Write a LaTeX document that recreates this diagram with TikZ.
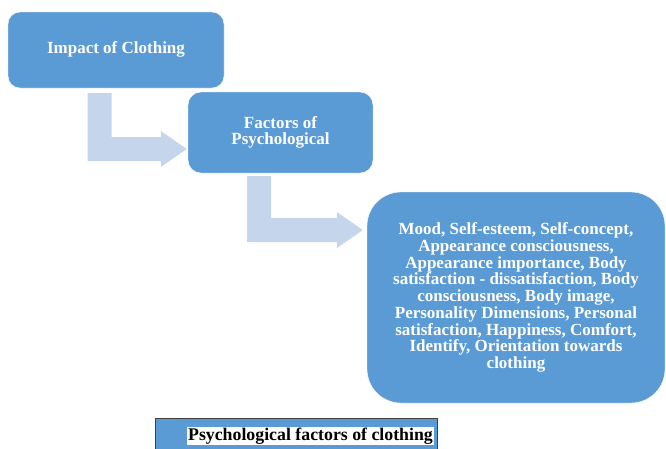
\documentclass[tikz,border=0pt]{standalone}
\usepackage{fontspec}
\setmainfont{Liberation Serif}
\usetikzlibrary{calc}

\definecolor{boxblue}{RGB}{91,155,213}
\definecolor{arrowblue}{RGB}{197,214,236}

% bent block arrow: #1 top of the stem, #2 tip of the head
\newcommand{\bentarrow}[2]{%
  \coordinate (ba-s) at #1;
  \coordinate (ba-t) at #2;
  \fill[arrowblue] ($(ba-s)+(-12,0)$) coordinate (ba-sl) -- ++(24,0) |- ($(ba-t)+(-26,-12)$)
    -- ++(0,-6) -- (ba-t) -- ++(-26,18) -- ++(0,-6) coordinate (ba-bb) -- (ba-sl |- ba-bb) -- cycle;}

\begin{document}
\begin{tikzpicture}[x=1pt,y=-1pt,
    box/.style={fill=boxblue,draw=white,thin,text=white,align=center,inner sep=0pt,
      font=\fontsize{17}{16.7}\selectfont\bfseries}]
    \useasboundingbox (0,0) rectangle (666,448);
    \clip (0,0) rectangle (666,448);
    \fill[white] (0,0) rectangle (666,448);

    \node[box,rounded corners=12pt,minimum width=216pt,minimum height=76pt] (impact) at (116,50) {\raisebox{4pt}{Impact of Clothing}};
    \node[box,rounded corners=13pt,minimum width=185pt,minimum height=81pt] (factors) at (280.5,132.5) {Factors of\\Psychological};
    \node[box,rounded corners=34pt,minimum width=298pt,minimum height=211pt] (items) at (516,297.5)
        {Mood, Self-esteem, Self-concept,\\
         Appearance consciousness,\\
         Appearance importance, Body\\
         satisfaction - dissatisfaction, Body\\
         consciousness, Body image,\\
         Personality Dimensions, Personal\\
         satisfaction, Happiness, Comfort,\\
         Identify, Orientation towards\\
         clothing};

    \bentarrow{($(impact.south)+(-16.5,5)$)}{($(factors.west)+(-1,16.5)$)}
    \bentarrow{($(factors.south)+(-21.5,3)$)}{($(items.west)+(-4,-67.5)$)}

    \node[fill=boxblue,draw=black!75,minimum width=282pt,minimum height=40pt,inner sep=0pt] (caption) at (296,438) {};
    \node[fill=white,text=black,inner sep=1pt,font=\fontsize{17.8}{17.8}\selectfont\bfseries] (captiontext) at ($(caption.center)+(14.5,-2)$) {Psychological factors of clothing};

\end{tikzpicture}
\end{document}
